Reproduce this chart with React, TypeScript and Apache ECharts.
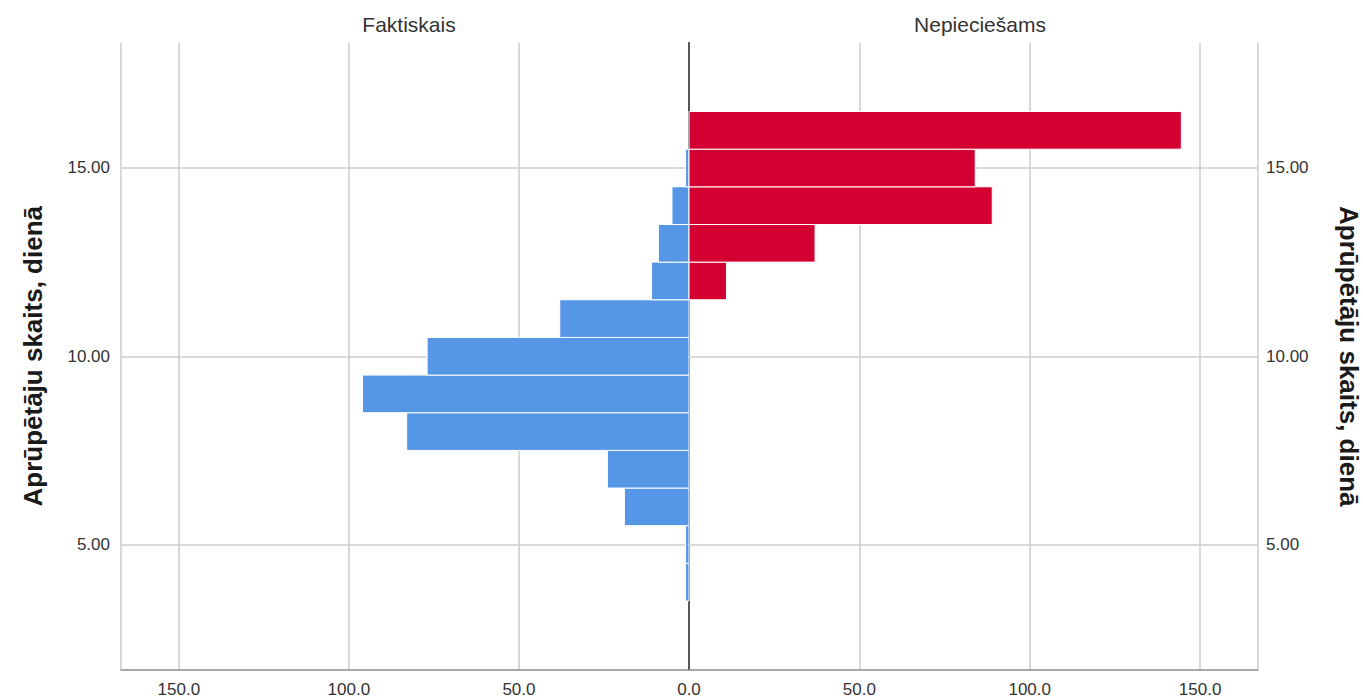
import React, { useEffect, useRef } from "react";
import * as echarts from "echarts";

const bins = [4, 5, 6, 7, 8, 9, 10, 11, 12, 13, 14, 15, 16];
const faktiskais = [1, 1, 19, 24, 83, 96, 77, 38, 11, 9, 5, 1, 0];
const nepieciesams = [0, 0, 0, 0, 0, 0, 0, 0, 11, 37, 89, 84, 144.5];
const panelTitles = ["Faktiskais", "Nepieciešams"];
const yAxisName = "Aprūpētāju skaits, dienā";
const yTicks = [5, 10, 15];

const BLUE = "#5596E6";
const RED = "#D50032";
const FONT = "'Liberation Sans', Arial, sans-serif";

function makeRender(color: string) {
  return (params: any, api: any) => {
    const v = api.value(0);
    const b = api.value(1);
    if (!v) return null;
    const p1 = api.coord([0, b + 0.5]);
    const p2 = api.coord([v, b - 0.5]);
    return {
      type: "rect",
      shape: {
        x: Math.min(p1[0], p2[0]),
        y: Math.min(p1[1], p2[1]),
        width: Math.abs(p2[0] - p1[0]),
        height: Math.abs(p2[1] - p1[1]),
      },
      style: { fill: color, stroke: "#ffffff", lineWidth: 1 },
    };
  };
}

export default function App() {
  const ref = useRef<HTMLDivElement>(null);
  useEffect(() => {
    if (!ref.current) return;
    const chart = echarts.init(ref.current, null, { renderer: "svg" });
    const yMin = 1.68;
    const yMax = 18.32;
    const xMax = 167;
    const labelStyle = { color: "#333", fontSize: 17, fontFamily: FONT };
    const gridColor = "#cdcdcd";
    const gridLine = { show: true, lineStyle: { color: gridColor, width: 1.5 } };
    const axisLineGrey = { show: true, lineStyle: { color: "#8c8c8c", width: 1.5 } };
    const hLines = {
      silent: true,
      symbol: "none",
      label: { show: false },
      lineStyle: { color: gridColor, width: 1.5, type: "solid" },
      data: yTicks.map((t) => ({ yAxis: t })),
    };
    const titleStyle = { fontSize: 21, fontWeight: "normal", color: "#333", fontFamily: FONT };
    const nameStyle = { fontSize: 26, fontWeight: "bold", color: "#1a1a1a", fontFamily: FONT };
    chart.setOption({
      animation: false,
      backgroundColor: "#ffffff",
      title: [
        { text: panelTitles[0], left: 404, top: 9, textAlign: "center", textStyle: titleStyle },
        { text: panelTitles[1], left: 975, top: 9, textAlign: "center", textStyle: titleStyle },
      ],
      grid: [
        { left: 121, right: 674, top: 43, bottom: 30.5, containLabel: false },
        { left: 689, right: 104, top: 43, bottom: 30.5, containLabel: false },
      ],
      xAxis: [
        {
          type: "value",
          gridIndex: 0,
          inverse: true,
          min: 0,
          max: xMax,
          interval: 50,
          axisLine: axisLineGrey,
          axisTick: { show: false },
          splitLine: gridLine,
          axisLabel: {
            ...labelStyle,
            margin: 11,
            showMaxLabel: false,
            formatter: (v: number) => v.toFixed(1),
          },
        },
        {
          type: "value",
          gridIndex: 1,
          min: 0,
          max: xMax,
          interval: 50,
          axisLine: axisLineGrey,
          axisTick: { show: false },
          splitLine: gridLine,
          axisLabel: {
            ...labelStyle,
            margin: 11,
            showMaxLabel: false,
            formatter: (v: number) => (v === 0 ? "" : v.toFixed(1)),
          },
        },
      ],
      yAxis: [
        {
          type: "value",
          gridIndex: 0,
          position: "left",
          min: yMin,
          max: yMax,
          axisLine: axisLineGrey,
          axisTick: { show: false },
          splitLine: { show: false },
          axisLabel: {
            ...labelStyle,
            margin: 11,
            customValues: yTicks,
            formatter: (v: number) => v.toFixed(2),
          },
          name: yAxisName,
          nameLocation: "middle",
          nameGap: 75,
          nameRotate: 90,
          nameTextStyle: nameStyle,
        },
        {
          type: "value",
          gridIndex: 1,
          position: "right",
          min: yMin,
          max: yMax,
          axisLine: axisLineGrey,
          axisTick: { show: false },
          splitLine: { show: false },
          axisLabel: {
            ...labelStyle,
            margin: 8,
            customValues: yTicks,
            formatter: (v: number) => v.toFixed(2),
          },
          name: yAxisName,
          nameLocation: "middle",
          nameGap: 78,
          nameRotate: -90,
          nameTextStyle: nameStyle,
        },
        {
          type: "value",
          gridIndex: 0,
          position: "right",
          min: yMin,
          max: yMax,
          axisLine: { show: true, lineStyle: { color: "#555555", width: 2 } },
          axisTick: { show: false },
          axisLabel: { show: false },
          splitLine: { show: false },
        },
      ],
      series: [
        {
          type: "line",
          xAxisIndex: 0,
          yAxisIndex: 0,
          data: [],
          z: 1,
          markLine: hLines,
        },
        {
          type: "line",
          xAxisIndex: 1,
          yAxisIndex: 1,
          data: [],
          z: 1,
          markLine: hLines,
        },
        {
          type: "custom",
          xAxisIndex: 0,
          yAxisIndex: 0,
          encode: { x: 0, y: 1 },
          renderItem: makeRender(BLUE),
          data: bins.map((b, i) => [faktiskais[i], b]),
          z: 5,
        },
        {
          type: "custom",
          xAxisIndex: 1,
          yAxisIndex: 1,
          encode: { x: 0, y: 1 },
          renderItem: makeRender(RED),
          data: bins.map((b, i) => [nepieciesams[i], b]),
          z: 5,
        },
      ],
    });
    return () => chart.dispose();
  }, []);
  return (
    <div
      ref={ref}
      style={{ position: "absolute", left: 0, top: 0, width: 1363, height: 700 }}
    />
  );
}
